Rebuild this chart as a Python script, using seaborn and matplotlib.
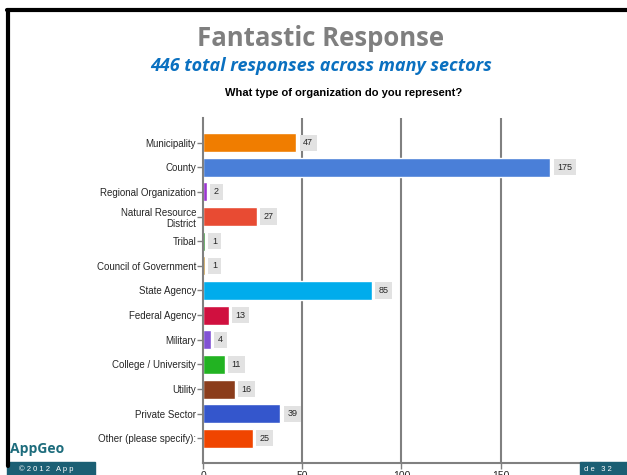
import matplotlib
matplotlib.use("Agg")
import matplotlib.pyplot as plt
import seaborn as sns
import pandas as pd

# dados
categorias = ["Municipality", "County", "Regional Organization", "Natural Resource\nDistrict",
              "Tribal", "Council of Government", "State Agency", "Federal Agency", "Military",
              "College / University", "Utility", "Private Sector", "Other (please specify):"]
respostas = [47, 175, 2, 27, 1, 1, 85, 13, 4, 11, 16, 39, 25]
cores = ["#f07d00", "#4a7fd8", "#9b35d0", "#e84b33", "#1a8a1a", "#c08a20", "#00acec",
         "#d0103f", "#8152d4", "#22b322", "#8b3d1c", "#3456cc", "#f04500"]
ticks_x = [0, 50, 100, 150]

df = pd.DataFrame({"categoria": categorias, "respostas": respostas})

sns.set_style("white")
plt.rcParams['font.family'] = ['Liberation Sans', 'DejaVu Sans']

fig = plt.figure(figsize=(6.27, 4.75), dpi=100)
ax = fig.add_axes([0.3238, 0.0253, 0.633, 0.7263])

sns.barplot(data=df, x="respostas", y="categoria", hue="categoria", palette=cores,
            legend=False, width=0.77, saturation=1, ax=ax, orient="h")

ax.set_xlim(0, 200)
ax.set_ylim(13, -1)
ax.set_xticks(ticks_x)
ax.set_xticklabels([str(t) for t in ticks_x], fontsize=7.5)
ax.tick_params(axis="y", labelsize=7, length=4, width=1, color="#808080", pad=1, left=True)
ax.tick_params(axis="x", length=4, width=1, color="#808080", pad=2, bottom=True)
ax.set_xlabel("")
ax.set_ylabel("")

for x in ticks_x[1:]:
    ax.axvline(x, color="#808080", lw=1.5, zorder=0)

for lado in ["top", "right"]:
    ax.spines[lado].set_visible(False)
for lado in ["left", "bottom"]:
    ax.spines[lado].set_color("#808080")
    ax.spines[lado].set_linewidth(1.5)

# rótulos de valor
for i, v in enumerate(respostas):
    ax.annotate(str(v), xy=(v, i), xytext=(5, 0), textcoords="offset points",
                va="center", ha="left", fontsize=6.5,
                bbox=dict(boxstyle="square,pad=0.4", fc="#e2e2e2", ec="none"))

# títulos
fig.text(0.512, 0.918, "Fantastic Response", ha="center", va="center", fontsize=18.5,
         fontweight="bold", color="#7f7f7f", family=["Open Sans", "DejaVu Sans"])
fig.text(0.512, 0.862, "446 total responses across many sectors", ha="center", va="center",
         fontsize=13, fontweight="bold", style="italic", color="#0a70c0",
         family=["Open Sans", "DejaVu Sans"])
fig.text(0.548, 0.805, "What type of organization do you represent?", ha="center", va="center",
         fontsize=8, fontweight="bold", color="black")

# moldura do slide
fig.add_artist(plt.Line2D([0.013, 0.013], [0.02, 0.98], color="black", lw=3, transform=fig.transFigure))
fig.add_artist(plt.Line2D([0.011, 1.0], [0.978, 0.978], color="black", lw=3, transform=fig.transFigure))

# rodapé
fig.add_artist(plt.Rectangle((0.011, 0.0), 0.14, 0.027, color="#1b5f74", transform=fig.transFigure))
fig.add_artist(plt.Rectangle((0.925, 0.0), 0.075, 0.027, color="#1b5f74", transform=fig.transFigure))
fig.text(0.03, 0.012, "© 2 0 1 2   A p p", fontsize=5.5, color="white", va="center")
fig.text(0.932, 0.012, "d e   3 2", fontsize=5.5, color="white", va="center")
fig.text(0.016, 0.055, "AppGeo", fontsize=10, fontweight="bold", color="#1d6c7c", va="center",
         family=["Open Sans", "DejaVu Sans"])

fig.savefig("out.png", dpi=100)
